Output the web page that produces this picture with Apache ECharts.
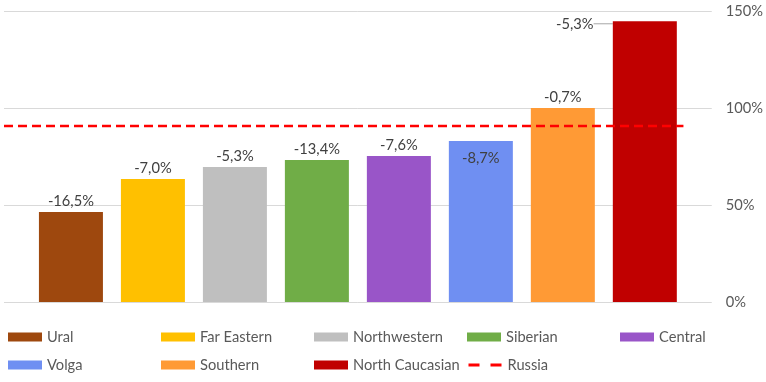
<!DOCTYPE html>
<html>
<head>
<meta charset="utf-8">
<script src="https://cdn.jsdelivr.net/npm/echarts@6/dist/echarts.min.js"></script>
<style>html,body{margin:0;padding:0;background:#fff}#c{width:766px;height:382px}</style>
</head>
<body>
<div id="c"></div>
<script>
// Data
var regions = ['Ural', 'Far Eastern', 'Northwestern', 'Siberian', 'Central', 'Volga', 'Southern', 'North Caucasian'];
var levels = [46.4, 63.4, 69.6, 73.2, 75.3, 83.0, 100.0, 144.7];
var changes = ['-16,5%', '-7,0%', '-5,3%', '-13,4%', '-7,6%', '-8,7%', '-0,7%', '-5,3%'];
var russiaName = 'Russia';
var russiaLevel = 90.7;
var russiaSpan = [0, 0.96];
var yTicks = [0, 50, 100, 150];

var colors = ['#9E480E', '#FFC000', '#BFBFBF', '#70AD47', '#9955C8', '#6F8FF2', '#FF9A35', '#C00000'];
var FONT = 'Lato';

var series = regions.map(function (name, i) {
  var s = {
    name: name,
    type: 'bar',
    data: [levels[i]],
    barWidth: 64,
    barGap: '28.1%',
    itemStyle: { color: colors[i] },
    label: {
      show: true,
      position: 'top',
      distance: 3,
      formatter: function () { return changes[i]; },
      color: '#404040',
      fontFamily: FONT,
      fontSize: 14.67
    }
  };
  if (name === 'Volga') {
    s.label.position = 'insideTop';
    s.label.distance = 10;
  }
  if (name === 'North Caucasian') {
    s.labelLayout = { dx: -70, dy: 13 };
    s.labelLine = { show: true, lineStyle: { color: '#A6A6A6', width: 1 } };
  }
  return s;
});

series.push({
  name: russiaName,
  type: 'line',
  xAxisIndex: 1,
  data: [[russiaSpan[0], russiaLevel], [russiaSpan[1], russiaLevel]],
  symbol: 'none',
  z: 5,
  lineStyle: { color: '#FF0000', width: 2.5, type: [9, 5] },
  itemStyle: { color: '#FF0000' }
});

var legendData = regions.map(function (n) { return { name: n, icon: 'rect' }; });
legendData.push({ name: russiaName, lineStyle: { type: [11, 11], width: 3 }, itemStyle: { opacity: 0 } });

var chart = echarts.init(document.getElementById('c'));
chart.setOption({
  animation: false,
  grid: { left: 4, right: 54, top: 11, bottom: 80 },
  xAxis: [
    { type: 'category', data: [''], axisLine: { show: false }, axisTick: { show: false }, axisLabel: { show: false } },
    { type: 'value', min: 0, max: 1, show: false }
  ],
  yAxis: {
    type: 'value',
    position: 'right',
    min: yTicks[0],
    max: yTicks[yTicks.length - 1],
    interval: 50,
    axisLine: { show: false },
    axisTick: { show: false },
    splitLine: { lineStyle: { color: '#D9D9D9', width: 1 } },
    axisLabel: {
      formatter: '{value}%',
      color: '#595959',
      fontFamily: FONT,
      fontSize: 14.67,
      margin: 14,
      align: 'left'
    }
  },
  legend: {
    data: legendData,
    left: 8,
    top: 325,
    width: 766,
    padding: 0,
    itemWidth: 34,
    itemHeight: 9,
    itemGap: 4,
    textStyle: {
      color: '#595959',
      fontFamily: FONT,
      fontSize: 14.67,
      width: 110,
      lineHeight: 24,
      padding: [0, 0, 0, 0],
      overflow: 'none'
    }
  },
  series: series
});
</script>
</body>
</html>
